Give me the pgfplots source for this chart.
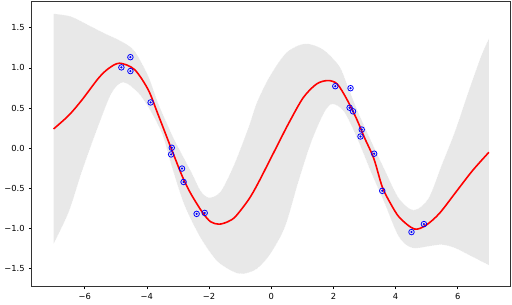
\documentclass[border=0pt]{standalone}
\usepackage{pgfplots}
\pgfplotsset{compat=1.18}
\usepgfplotslibrary{fillbetween}
\usepackage{fontspec}
\setmainfont{DejaVu Sans}
\begin{document}
\begin{tikzpicture}
\begin{axis}[
  at={(21pt,11.5pt)}, anchor=south west,
  scale only axis, width=362pt, height=215.8pt,
  xmin=-7.7, xmax=7.7, ymin=-1.719, ymax=1.833,
  xtick={-6,-4,-2,0,2,4,6},
  xticklabels={−6,−4,−2,0,2,4,6},
  ytick={-1.5,-1,-0.5,0,0.5,1,1.5},
  yticklabels={−1.5,−1.0,−0.5,0.0,0.5,1.0,1.5},
  tick align=outside, major tick length=2.2pt,
  tick style={line width=0.5pt, black},
  xtick pos=bottom, ytick pos=left,
  axis line style={line width=0.6pt, black!80},
  ticklabel style={font=\fontsize{6.3}{7}\selectfont},
  xticklabel style={yshift=0.5pt},
  yticklabel style={xshift=0.3pt},
]
\addplot[name path=U, draw=none, smooth] coordinates {
(-7.0,1.673) (-6.45,1.64) (-5.92,1.54) (-5.39,1.435) (-4.82,1.33) (-4.40,1.21)
(-3.96,0.90) (-3.65,0.57) (-3.38,0.33) (-3.11,0.10) (-2.58,-0.29) (-2.27,-0.53)
(-2.0,-0.615) (-1.63,-0.54) (-1.2,-0.21) (-0.73,0.26) (-0.46,0.57) (-0.04,0.90)
(0.49,1.19) (1.08,1.30) (1.66,1.23) (2.19,1.02) (2.45,0.78) (2.77,0.47)
(3.2,0.10) (3.65,-0.27) (4.1,-0.62) (4.58,-0.77) (5.06,-0.62) (5.48,-0.21)
(5.9,0.2) (6.33,0.69) (6.75,1.146) (7.0,1.364)
};
\addplot[name path=L, draw=none, smooth] coordinates {
(-7.0,-1.19) (-6.51,-0.79) (-6.09,-0.29) (-5.56,0.28) (-5.13,0.69) (-4.76,0.82)
(-4.28,0.69) (-3.86,0.45) (-3.49,0.16) (-3.22,-0.2) (-2.80,-0.70) (-2.27,-1.117)
(-1.74,-1.405) (-1.2,-1.54) (-0.885,-1.562) (-0.46,-1.50) (-0.04,-1.32)
(0.44,-0.98) (0.87,-0.42) (1.29,0.08) (1.71,0.45) (1.98,0.55) (2.35,0.45)
(2.77,0.117) (3.2,-0.29) (3.62,-0.66) (4.1,-1.1) (4.53,-1.24) (5.06,-1.22)
(5.48,-1.2) (5.9,-1.24) (6.43,-1.343) (7.0,-1.455)
};
\addplot[gray!18] fill between[of=U and L];
\addplot[white, densely dotted, line width=0.35pt, smooth] coordinates {
(-7.0,1.673) (-6.45,1.64) (-5.92,1.54) (-5.39,1.435) (-4.82,1.33) (-4.40,1.21)
(-3.96,0.90) (-3.65,0.57) (-3.38,0.33) (-3.11,0.10) (-2.58,-0.29) (-2.27,-0.53)
(-2.0,-0.615) (-1.63,-0.54) (-1.2,-0.21) (-0.73,0.26) (-0.46,0.57) (-0.04,0.90)
(0.49,1.19) (1.08,1.30) (1.66,1.23) (2.19,1.02) (2.45,0.78) (2.77,0.47)
(3.2,0.10) (3.65,-0.27) (4.1,-0.62) (4.58,-0.77) (5.06,-0.62) (5.48,-0.21)
(5.9,0.2) (6.33,0.69) (6.75,1.146) (7.0,1.364)
};
\addplot[white, densely dotted, line width=0.35pt, smooth] coordinates {
(-7.0,-1.19) (-6.51,-0.79) (-6.09,-0.29) (-5.56,0.28) (-5.13,0.69) (-4.76,0.82)
(-4.28,0.69) (-3.86,0.45) (-3.49,0.16) (-3.22,-0.2) (-2.80,-0.70) (-2.27,-1.117)
(-1.74,-1.405) (-1.2,-1.54) (-0.885,-1.562) (-0.46,-1.50) (-0.04,-1.32)
(0.44,-0.98) (0.87,-0.42) (1.29,0.08) (1.71,0.45) (1.98,0.55) (2.35,0.45)
(2.77,0.117) (3.2,-0.29) (3.62,-0.66) (4.1,-1.1) (4.53,-1.24) (5.06,-1.22)
(5.48,-1.2) (5.9,-1.24) (6.43,-1.343) (7.0,-1.455)
};
\addplot[red, line width=1.2pt, smooth] coordinates {
(-7.0,0.24) (-6.51,0.41) (-6.09,0.60) (-5.56,0.87) (-5.24,0.99) (-4.88,1.058)
(-4.40,0.98) (-3.96,0.73) (-3.65,0.43) (-3.22,0.0) (-2.85,-0.36) (-2.58,-0.57)
(-2.21,-0.80) (-1.95,-0.915) (-1.68,-0.945) (-1.40,-0.915) (-1.15,-0.85)
(-0.73,-0.64) (-0.43,-0.44) (0.15,0.0) (0.56,0.31) (1.03,0.63) (1.46,0.80)
(1.82,0.842) (2.12,0.80) (2.43,0.61) (2.75,0.36) (3.0,0.13) (3.3,-0.13)
(3.57,-0.48) (3.84,-0.69) (4.13,-0.865) (4.6,-1.005) (4.98,-0.957) (5.41,-0.81)
(5.94,-0.545) (6.47,-0.28) (7.0,-0.05)
};
\addplot[only marks, mark=o, mark size=2.1pt, blue, line width=0.6pt] coordinates {
(-4.53,1.133) (-4.82,1.006) (-4.53,0.96) (-3.88,0.57) (-3.20,0.006) (-3.22,-0.077)
(-2.87,-0.253) (-2.82,-0.42) (-2.40,-0.817) (-2.14,-0.805) (2.06,0.772) (2.55,0.747)
(2.52,0.504) (2.63,0.459) (2.91,0.232) (2.87,0.146) (3.31,-0.068) (3.57,-0.53)
(4.51,-1.043) (4.91,-0.944)
};
\addplot[only marks, mark=*, mark size=0.6pt, blue] coordinates {
(-4.53,1.133) (-4.82,1.006) (-4.53,0.96) (-3.88,0.57) (-3.20,0.006) (-3.22,-0.077)
(-2.87,-0.253) (-2.82,-0.42) (-2.40,-0.817) (-2.14,-0.805) (2.06,0.772) (2.55,0.747)
(2.52,0.504) (2.63,0.459) (2.91,0.232) (2.87,0.146) (3.31,-0.068) (3.57,-0.53)
(4.51,-1.043) (4.91,-0.944)
};
\end{axis}
\path (0,0) rectangle (384pt,228pt);
\end{tikzpicture}
\end{document}
